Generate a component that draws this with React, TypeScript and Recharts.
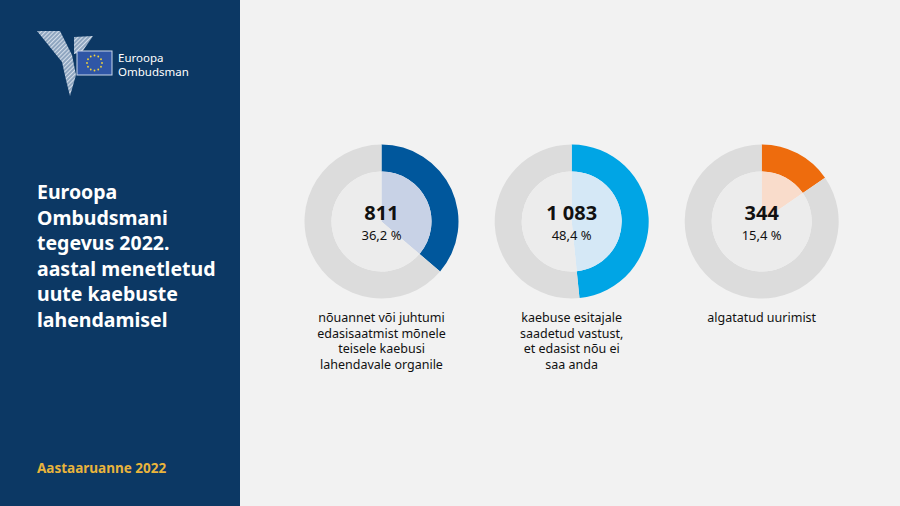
import React from "react";
import { PieChart, Pie, Cell } from "recharts";

const categories = [
  ["nõuannet või juhtumi", "edasisaatmist mõnele", "teisele kaebusi", "lahendavale organile"],
  ["kaebuse esitajale", "saadetud vastust,", "et edasist nõu ei", "saa anda"],
  ["algatatud uurimist"],
];
const counts = [811, 1083, 344];
const countLabels = ["811", "1 083", "344"];
const percentLabels = ["36,2 %", "48,4 %", "15,4 %"];
const mainColors = ["#00579c", "#00a5e5", "#ee6c0d"];
const lightColors = ["#c8d2e6", "#d5e8f6", "#f9dccb"];
const titleLines = [
  "Euroopa",
  "Ombudsmani",
  "tegevus 2022.",
  "aastal menetletud",
  "uute kaebuste",
  "lahendamisel",
];
const footerText = "Aastaaruanne 2022";
const logoLines = ["Euroopa", "Ombudsman"];

const total = counts.reduce((a, b) => a + b, 0);
const centersX = [381.5, 571.7, 761.7];
const centerY = 221.5;
const FONT = "'Noto Sans', 'Open Sans', sans-serif";

const ringGray = "#dcdcdc";
const innerGray = "#ececec";

function Logo() {
  const stars = Array.from({ length: 12 }, (_, i) => {
    const a = (i / 12) * Math.PI * 2;
    return { x: 94.5 + Math.cos(a) * 7.5, y: 63 + Math.sin(a) * 7.5 };
  });
  return (
    <svg width={240} height={110} style={{ position: "absolute", left: 0, top: 0 }}>
      <defs>
        <pattern id="hatch" width="3" height="3" patternUnits="userSpaceOnUse" patternTransform="rotate(45)">
          <rect width="3" height="3" fill="#8fa6c0" />
          <line x1="0" y1="0" x2="0" y2="3" stroke="#e6edf5" strokeWidth="1.6" />
        </pattern>
      </defs>
      <polygon points="37,31 60,31 72,55 76,75 70,96 66,80 62,62" fill="url(#hatch)" />
      <polygon points="74,37 93,36 82,52 74,54" fill="url(#hatch)" />
      <rect x={77} y={51} width={35} height={24} fill="#2f56a6" stroke="#c9d6ea" strokeWidth={1} />
      {stars.map((s, i) => (
        <circle key={i} cx={s.x} cy={s.y} r={0.9} fill="#f5d53a" />
      ))}
      <text x={118} y={62} fill="#ffffff" fontSize={11.5} fontFamily={FONT}>{logoLines[0]}</text>
      <text x={118} y={76} fill="#ffffff" fontSize={11.5} fontFamily={FONT}>{logoLines[1]}</text>
    </svg>
  );
}

export default function App() {
  return (
    <div
      style={{
        position: "absolute",
        left: 0,
        top: 0,
        width: 900,
        height: 506,
        background: "#f2f2f2",
        fontFamily: FONT,
        overflow: "hidden",
      }}
    >
      <div style={{ position: "absolute", left: 0, top: 0, width: 240, height: 506, background: "#0c3864" }}>
        <Logo />
        <div
          style={{
            position: "absolute",
            left: 37,
            top: 179,
            color: "#ffffff",
            fontWeight: 700,
            fontSize: 19.5,
            lineHeight: "25.6px",
          }}
        >
          {titleLines.map((l, i) => (
            <div key={i}>{l}</div>
          ))}
        </div>
        <div
          style={{
            position: "absolute",
            left: 37,
            top: 459,
            color: "#e9b43c",
            fontWeight: 700,
            fontSize: 13.5,
          }}
        >
          {footerText}
        </div>
      </div>
      <div style={{ position: "absolute", left: 0, top: 0 }}>
        <PieChart width={900} height={506} margin={{ top: 0, right: 0, bottom: 0, left: 0 }}>
          {counts.map((c, i) => (
            <Pie
              key={"ring" + i}
              data={[
                { name: "a", value: c },
                { name: "b", value: total - c },
              ]}
              dataKey="value"
              cx={centersX[i]}
              cy={centerY}
              innerRadius={50}
              outerRadius={77}
              startAngle={90}
              endAngle={-270}
              stroke="none"
              isAnimationActive={false}
            >
              <Cell fill={mainColors[i]} stroke="none" />
              <Cell fill={ringGray} stroke="none" />
            </Pie>
          ))}
          {counts.map((c, i) => (
            <Pie
              key={"inner" + i}
              data={[
                { name: "a", value: c },
                { name: "b", value: total - c },
              ]}
              dataKey="value"
              cx={centersX[i]}
              cy={centerY}
              innerRadius={0}
              outerRadius={50}
              startAngle={90}
              endAngle={-270}
              stroke="none"
              isAnimationActive={false}
            >
              <Cell fill={lightColors[i]} stroke="none" />
              <Cell fill={innerGray} stroke="none" />
            </Pie>
          ))}
        </PieChart>
      </div>
      {counts.map((_, i) => (
        <React.Fragment key={"lbl" + i}>
          <div
            style={{
              position: "absolute",
              left: centersX[i] - 60,
              top: 198.5,
              width: 120,
              textAlign: "center",
              color: "#111111",
              fontSize: 20,
              fontWeight: 700,
              lineHeight: "27.2px",
            }}
          >
            {countLabels[i]}
          </div>
          <div
            style={{
              position: "absolute",
              left: centersX[i] - 60,
              top: 226.5,
              width: 120,
              textAlign: "center",
              color: "#111111",
              fontSize: 13,
              lineHeight: "17.7px",
            }}
          >
            {percentLabels[i]}
          </div>
        </React.Fragment>
      ))}
      {categories.map((lines, i) => (
        <div
          key={"cat" + i}
          style={{
            position: "absolute",
            left: centersX[i] - 90,
            top: 310,
            width: 180,
            textAlign: "center",
            color: "#111111",
            fontSize: 12.5,
            lineHeight: "15.6px",
          }}
        >
          {lines.map((l, j) => (
            <div key={j}>{l}</div>
          ))}
        </div>
      ))}
    </div>
  );
}
